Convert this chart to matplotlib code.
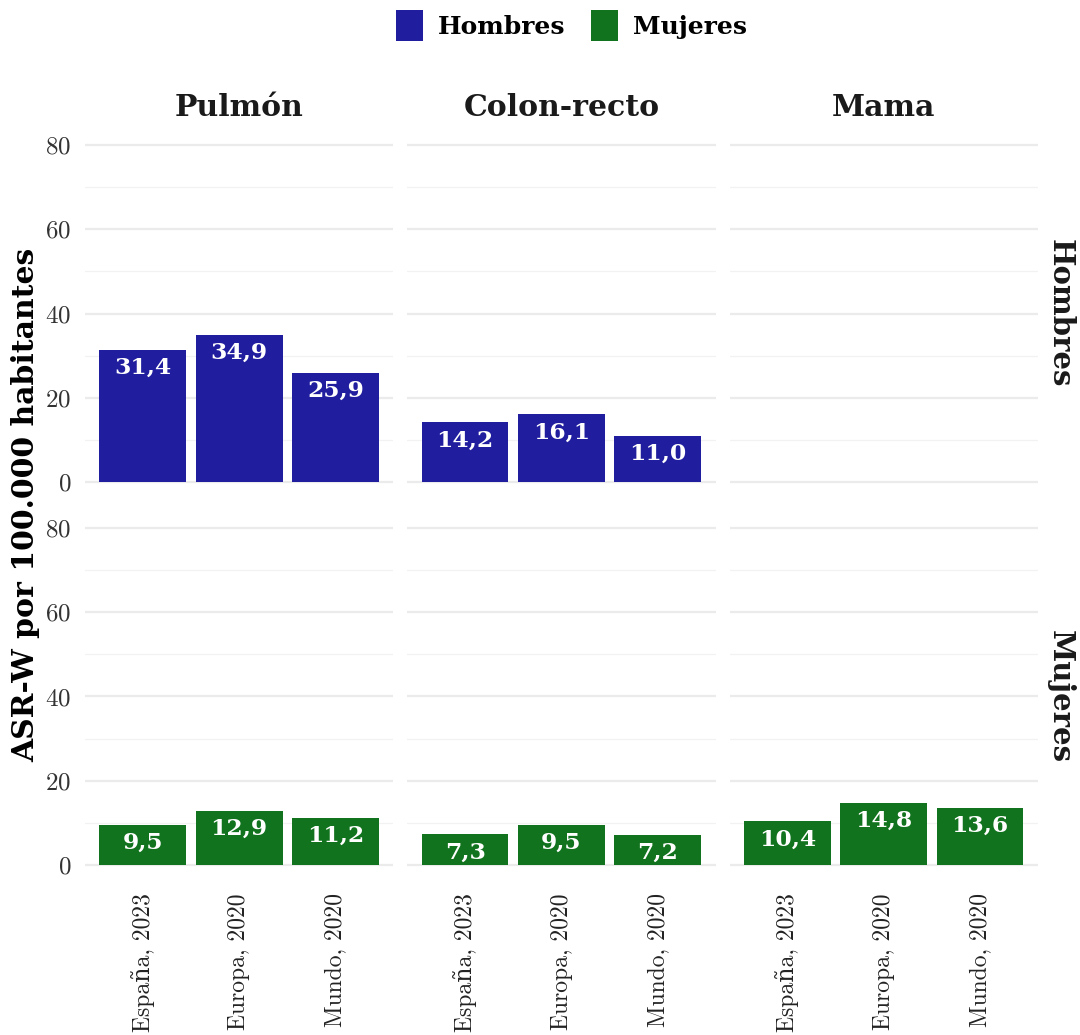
import numpy as np
import matplotlib.pyplot as plt
from matplotlib.patches import Patch

# datos: ASR-W por 100.000 habitantes
regiones = ["España, 2023", "Europa, 2020", "Mundo, 2020"]
tumores = ["Pulmón", "Colon-recto", "Mama"]
sexos = ["Hombres", "Mujeres"]

hombres_pulmon = [31.4, 34.9, 25.9]
hombres_colon = [14.2, 16.1, 11.0]
hombres_mama = [np.nan, np.nan, np.nan]
mujeres_pulmon = [9.5, 12.9, 11.2]
mujeres_colon = [7.3, 9.5, 7.2]
mujeres_mama = [10.4, 14.8, 13.6]

valores = {
    "Hombres": [hombres_pulmon, hombres_colon, hombres_mama],
    "Mujeres": [mujeres_pulmon, mujeres_colon, mujeres_mama],
}
colores = {"Hombres": "#201E9E", "Mujeres": "#12731F"}

REG = ["cmr10", "DejaVu Serif"]
BOLD = ["DejaVu Serif"]
plt.rcParams["axes.formatter.use_mathtext"] = True

fig, axes = plt.subplots(2, 3, figsize=(10.8, 10.35), dpi=100, sharey=True)
fig.subplots_adjust(left=0.0787, right=0.961, top=0.8763, bottom=0.1478,
                    wspace=0.045, hspace=0.032)

x = np.arange(1, len(regiones) + 1)
for i, sexo in enumerate(sexos):
    for j, tumor in enumerate(tumores):
        ax = axes[i, j]
        vals = np.array(valores[sexo][j], dtype=float)
        ax.bar(x, np.nan_to_num(vals), width=0.9, color=colores[sexo], zorder=2)
        for xi, v in zip(x, vals):
            if np.isnan(v):
                continue
            ax.text(xi, v - 4.3, f"{v:.1f}".replace(".", ","), ha="center", va="center",
                    color="white", fontsize=16.8, family=BOLD, weight="bold", zorder=3)
        ax.set_xlim(0.4, 3.6)
        ax.set_ylim(-4, 84)
        ax.set_yticks([0, 20, 40, 60, 80])
        ax.set_yticks([10, 30, 50, 70], minor=True)
        ax.grid(True, which="major", color="#EBEBEB", lw=1.6, zorder=0)
        ax.grid(True, which="minor", color="#F2F2F2", lw=0.9, zorder=0)
        ax.xaxis.grid(False)
        for s in ax.spines.values():
            s.set_visible(False)
        ax.tick_params(which="both", length=0, labelsize=18)
        ax.tick_params(axis="y", pad=10)
        ax.tick_params(axis="x", pad=8)
        ax.set_xticks(x)
        if i == 1:
            ax.set_xticklabels(regiones, rotation=90, family=REG, fontsize=17, color="#222222")
        else:
            ax.set_xticklabels([])
        for lab in ax.get_yticklabels():
            lab.set_family(REG)
            lab.set_color("#333333")
        if i == 0:
            ax.set_title(tumor, family=BOLD, weight="bold", fontsize=21.5,
                         color="#1A1A1A", pad=9)
        if j == 2:
            ax.text(1.025, 0.5, sexo, transform=ax.transAxes, rotation=-90,
                    ha="left", va="center", family=BOLD, weight="bold",
                    fontsize=21, color="#1A1A1A")

fig.text(0.024, 0.512, "ASR-W por 100.000 habitantes", rotation=90, ha="center",
         va="center", family=BOLD, weight="bold", fontsize=21.5, color="black")

handles = [Patch(facecolor=colores[s], label=s) for s in sexos]
leg = fig.legend(handles=handles, loc="upper center", bbox_to_anchor=(0.529, 1.012),
                 ncol=2, frameon=False,
                 prop={"family": BOLD, "weight": "bold", "size": 18},
                 handlelength=1.1, handleheight=1.5, handletextpad=0.6,
                 columnspacing=1.0)

fig.savefig("out.png", dpi=100, facecolor="white")
